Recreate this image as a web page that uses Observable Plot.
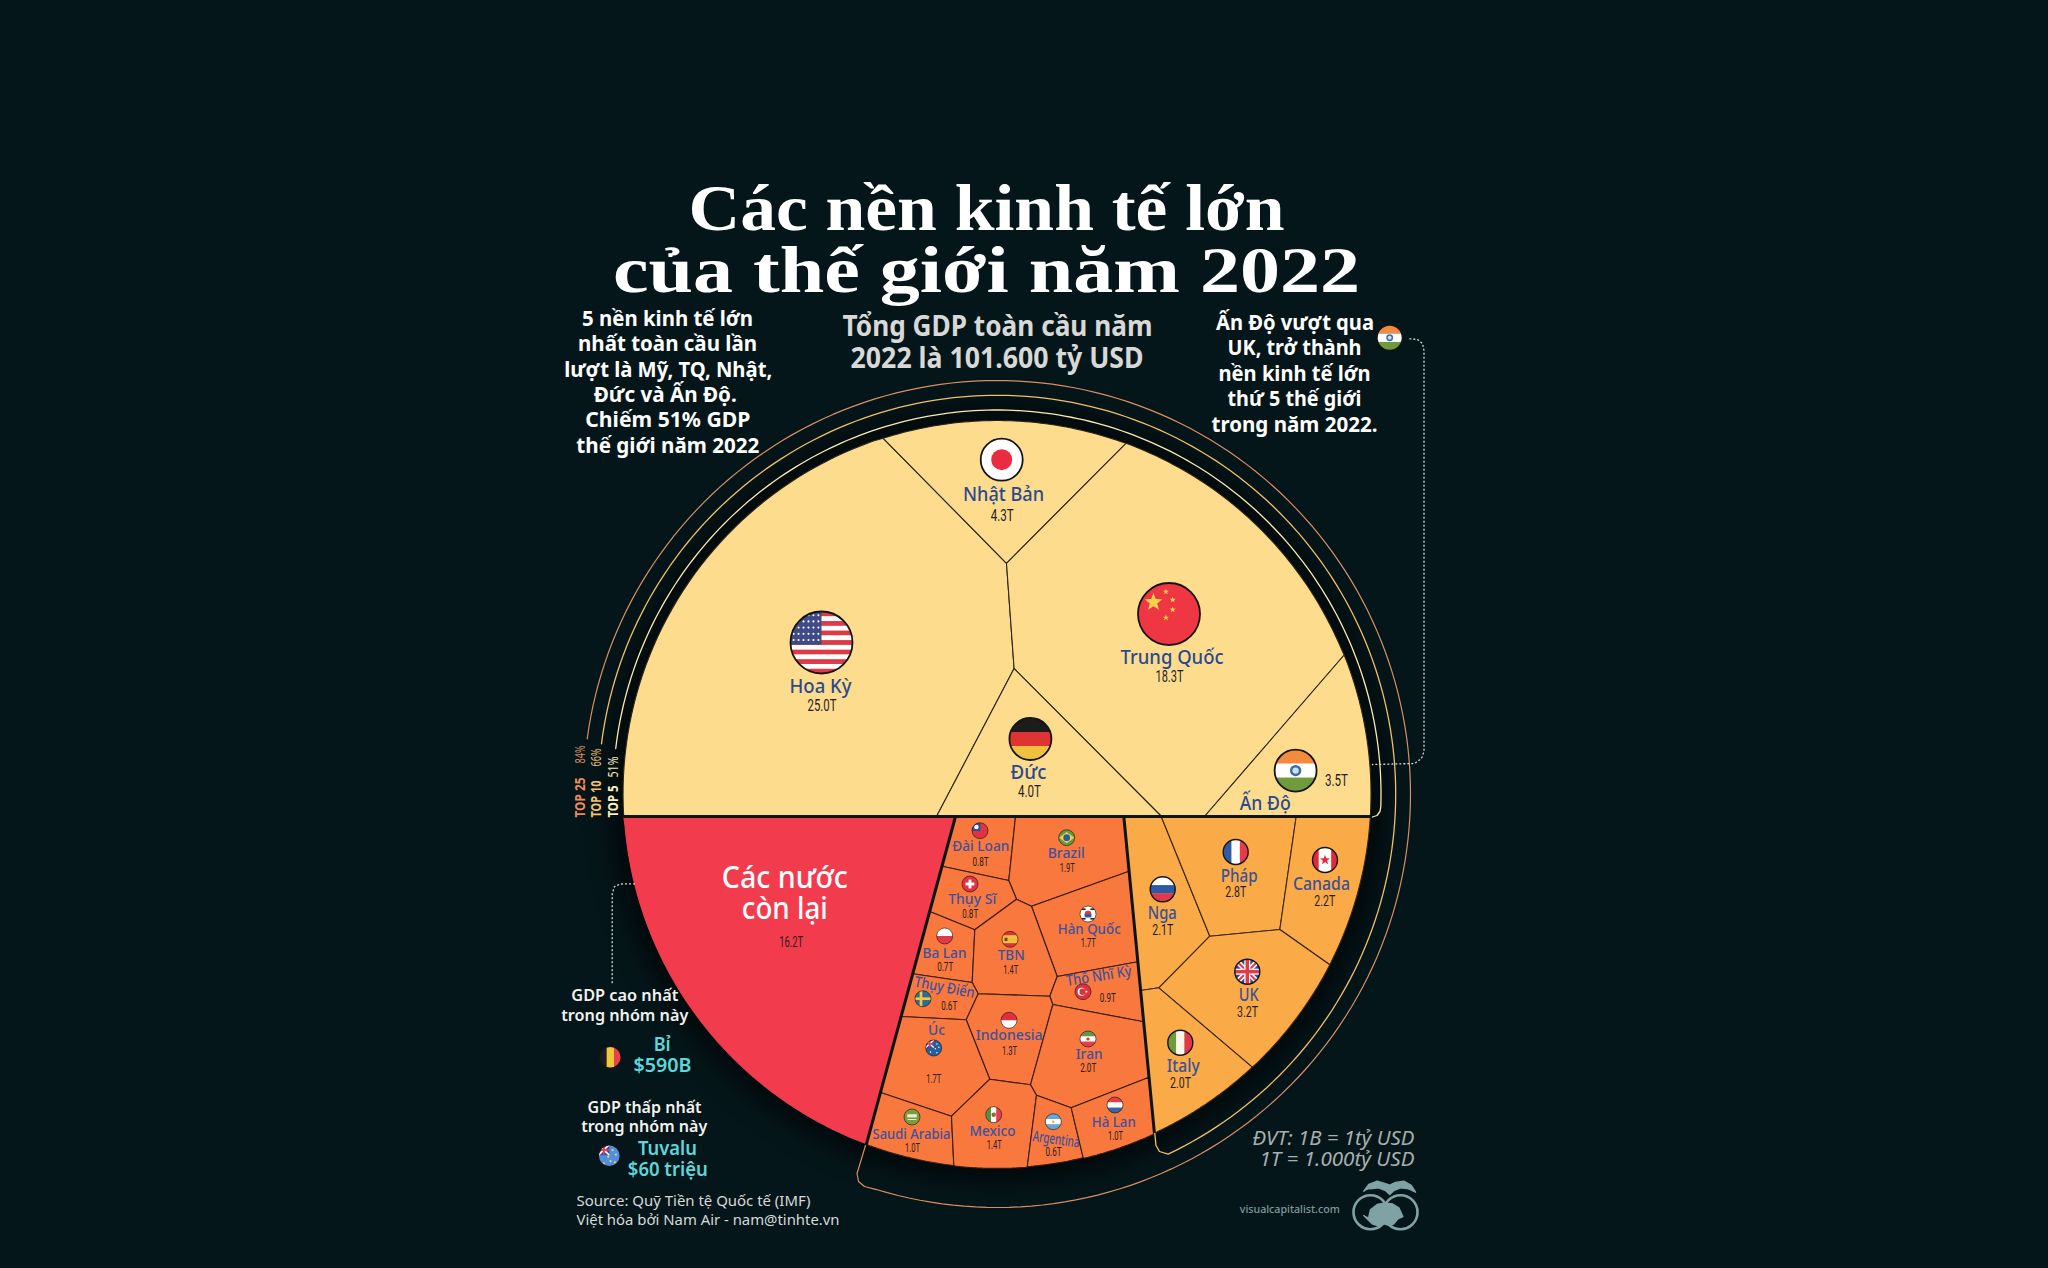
<!DOCTYPE html>
<html lang="vi">
<head>
<meta charset="utf-8">
<title>Các nền kinh tế lớn của thế giới năm 2022</title>
<script src="https://cdn.jsdelivr.net/npm/d3@7"></script>
<script src="https://cdn.jsdelivr.net/npm/@observablehq/plot@0.6"></script>
<style>
html,body{margin:0;padding:0;background:#05161a}
.halo{filter:blur(12px)}
</style>
</head>
<body>
<div id="chart"></div>
<script>
// ---- Reading of the pie: image coordinates
const centre = [996.5, 793.5], radius = 374;
const ARC = "arc";

// Top 5 cells
const top5Cells = [
  ["Hoa Kỳ", [[623.2,816],ARC,[882.7,437.8],[1006,562.8],[1013.6,668],[936,816]]],
  ["Nhật Bản", [[882.7,437.8],ARC,[1125.5,442.8],[1006,562.8]]],
  ["Trung Quốc", [[1125.5,442.8],ARC,[1343.7,654.5],[1204,816],[1161,816],[1013.6,668],[1006,562.8]]],
  ["Đức", [[1013.6,668],[1161,816],[936,816]]],
  ["Ấn Độ", [[1343.7,654.5],ARC,[1369.8,816],[1204,816]]]
];
// Next five
const top10Cells = [
  ["Nga", [[1123.3,816],[1160.7,816],[1209.3,935.7],[1158.3,987.3],[1140.1,990]]],
  ["Pháp", [[1160.7,816],[1295.7,816],[1279.3,929],[1209.3,935.7]]],
  ["Canada", [[1295.7,816],[1369.8,816],ARC,[1329.3,964.3],[1279.3,929]]],
  ["UK", [[1209.3,935.7],[1279.3,929],[1329.3,964.3],ARC,[1251.7,1066.7],[1158.3,987.3]]],
  ["Italy", [[1140.1,990],[1158.3,987.3],[1251.7,1066.7],ARC,[1154,1133.3]]]
];
// Next fifteen
const top25Cells = [
  ["Đài Loan", [[955,816],[1015,816],[1008.3,880],[941.5,865.7]]],
  ["Brazil", [[1015,816],[1123.3,816],[1128.6,870.7],[1031,905.7],[1016,898.7],[1008.3,880]]],
  ["Thụy Sĩ", [[941.5,865.7],[1008.3,880],[1016,898.7],[974.3,929.3],[929.2,911]]],
  ["Hàn Quốc", [[1031,905.7],[1128.6,870.7],[1137.4,961.3],[1056.7,976]]],
  ["Ba Lan", [[929.2,911],[974.3,929.3],[971.7,982],[912.2,973.3]]],
  ["TBN", [[1016,898.7],[1031,905.7],[1056.7,976],[1049.3,995.7],[977.7,993.3],[971.7,982],[974.3,929.3]]],
  ["Thụy Điển", [[912.2,973.3],[971.7,982],[977.7,993.3],[965.7,1019.3],[900.6,1016]]],
  ["Thổ Nhĩ Kỳ", [[1056.7,976],[1137.4,961.3],[1143.2,1021.3],[1052.3,1004],[1049.3,995.7]]],
  ["Indonesia", [[977.7,993.3],[1049.3,995.7],[1052.3,1004],[1030,1084.3],[989.3,1078.7],[965.7,1019.3]]],
  ["Iran", [[1052.3,1004],[1143.2,1021.3],[1148.5,1076.7],[1070.7,1107.3],[1036,1094.7],[1030,1084.3]]],
  ["Úc", [[900.6,1016],[965.7,1019.3],[989.3,1078.7],[951,1115.7],[880,1092]]],
  ["Saudi Arabia", [[880,1092],[951,1115.7],[953.3,1165],ARC,[866,1143.3]]],
  ["Mexico", [[951,1115.7],[989.3,1078.7],[1030,1084.3],[1036,1094.7],[1026.7,1166.7],ARC,[953.3,1165]]],
  ["Argentina", [[1036,1094.7],[1070.7,1107.3],[1082.7,1157.3],ARC,[1026.7,1166.7]]],
  ["Hà Lan", [[1070.7,1107.3],[1148.5,1076.7],[1154,1133.3],ARC,[1082.7,1157.3]]]
];
const restCell = [["Các nước còn lại", [[623.2,816],[955,816],[866,1143.3],ARC]]];

// Thick group boundaries
const groupLines = [
  ["d", [[623.2,816],[1369.8,816]]],
  ["r", [[955,816],[866,1143.3]]],
  ["a", [[1123.3,816],[1154,1133.3]]]
];

// Names, sizes: [text, x, y, width, rotation]
const bigNames = [
  ["Hoa Kỳ",820,685.6,62],["Trung Quốc",1171.5,657,103],["Nhật Bản",1003,494,81],["Đức",1028,772,36],["Ấn Độ",1264.7,803.3,51]
];
const midNames = [
  ["Pháp",1238.7,876,37],["Canada",1321,884,57],["Nga",1161.7,912.7,29],["UK",1248.3,995,20],["Italy",1182.7,1066,33]
];
const smallNames = [
  ["Đài Loan",980.3,846,57],["Brazil",1065.7,852.3,37],["Thụy Sĩ",971.7,898.7,48],["Hàn Quốc",1088.7,929,63],
  ["Ba Lan",944,953,44],["TBN",1010.7,955,27],["Thổ Nhĩ Kỳ",1098.3,975.7,66,-9],["Thụy Điển",944,987,61,11],
  ["Indonesia",1008.7,1035,67],["Iran",1088.7,1053.7,27],["Úc",936,1030,17],["Hà Lan",1113.3,1122,44],
  ["Saudi Arabia",911,1133.3,78],["Mexico",992,1131,46],["Argentina",1055.7,1139,47,8]
];
const bigValues = [["25.0T",821.5,705,29],["18.3T",1169,676.5,28],["4.3T",1001.7,514.6,23],["4.0T",1029,791.4,23],["3.5T",1336,780,23]];
const midValues = [["2.8T",1235.3,892,21],["2.2T",1324.3,900.3,21],["2.1T",1162.3,929.3,21],["3.2T",1247,1012,21],["2.0T",1180,1082.7,21],["16.2T",790.7,942,24]];
const smallValues = [
  ["0.8T",980,861,16],["1.9T",1066.7,867,15],["0.8T",969.7,913.3,16],["1.7T",1087.7,942.7,15],["0.7T",944.7,966,16],["1.4T",1010.3,969,15],
  ["0.9T",1107.3,997.3,16],["0.6T",948.7,1005.3,16],["1.3T",1009,1050,15],["2.0T",1087.7,1067.7,16],["1.7T",933.3,1078,15],["1.0T",1115,1135,15],
  ["1.0T",912,1147,15],["1.4T",993.7,1144.3,15],["0.6T",1053,1151.3,16]
];

// Flags: [type, x, y, r]
const flagRows = [
  ["us",821.5,642.5,31],["cn",1169,614,31],["jp",1001.7,459.7,21],["de",1030.4,739,21],["in",1295.6,770.6,21],
  ["fr",1235.7,852,12.5],["ca",1325,860,12.5],["ru",1162.7,889.3,12.5],["gb",1247.3,971.7,12.5],["it",1180.3,1042.7,12.5],
  ["tw",980,830.7,8],["br",1066.7,837.7,8],["ch",970,884,8],["kr",1088,914,8],["pl",944.7,936,8],["es",1010,939.3,8],
  ["tr",1083,991.7,8],["se",923,998.7,8],["id",1009,1020.3,8],["ir",1088,1039,8],["au",933.7,1048,8],["nl",1115,1105,8],
  ["sa",912,1117,8],["mx",993.7,1114.7,8],["ar",1053.3,1121.7,8],
  ["be",610.3,1057.3,11],["tv",609.3,1155.7,11],["in",1389.7,337.7,12.7]
];

// Free text
const titleLines = [["Các nền kinh tế lớn",986,229.3,596],["của thế giới năm 2022",986,291.7,747]];
const subtitleLines = [["Tổng GDP toàn cầu năm",997,327,310],["2022 là 101.600 tỷ USD",996.6,359,293]];
const leftNote = [
  ["5 nền kinh tế lớn",667,318,171],["nhất toàn cầu lần",667,343.5,179],["lượt là Mỹ, TQ, Nhật,",667.7,369,208],
  ["Đức và Ấn Độ.",664.7,394,143],["Chiếm 51% GDP",667.3,419.5,165],["thế giới năm 2022",667.3,445,183]
];
const rightNote = [
  ["Ấn Độ vượt qua",1294.5,322.5,158],["UK, trở thành",1294,347.5,134],["nền kinh tế lớn",1294,373,152],
  ["thứ 5 thế giới",1294,398.5,134],["trong năm 2022.",1294,424,166]
];
const restTitle = [["Các nước",784.3,877.5,126],["còn lại",784.3,908.5,86]];
const sideHeads = [
  ["GDP cao nhất",624.3,995.7,107],["trong nhóm này",624.3,1015,127],
  ["GDP thấp nhất",644,1107.3,114],["trong nhóm này",643.7,1126.7,126]
];
const sideValues = [["Bỉ",661.7,1044.3,17],["$590B",662,1065.7,58],["Tuvalu",667,1148.3,59],["$60 triệu",667.3,1169.3,80]];
const sourceLines = [["Source: Quỹ Tiền tệ Quốc tế (IMF)",576,1201,234],["Việt hóa bởi Nam Air - nam@tinhte.vn",576,1220,263]];
const unitLines = [["ĐVT: 1B = 1tỷ USD",1414,1138.3,162],["1T = 1.000tỷ USD",1414,1159,155]];
const siteLine = [["visualcapitalist.com",1289.3,1209.3,100]];
const ringLabelsBold = [
  ["TOP 25",579.3,817,40,-90,"#ef8a5a"],["TOP 10",596,817,37,-90,"#f5c36e"],["TOP 5",612.7,817,32,-90,"#fbeebb"]
];
const ringLabelsPct = [
  ["84%",579.3,763,18,-90,"#d98a62"],["66%",596,766,18,-90,"#e8bb70"],["51%",612.7,777,21,-90,"#f3e6b6"]
];

// Ring ends and hooks
const ringTop5 = { r: 384, from: [615,748], to: [1380.4,806], tail: [[1379.5,811],[1376.5,815],[1372,816.5]], color: "#fbeab0" };
const ringTop10 = { r: 398.7, from: [601,743.3], to: [1166,1150.2], tail: [[1159,1151],[1155.5,1145],[1154.3,1133]], color: "#f2bf6a" };
const ringTop25 = { r: 413.5, from: [586.7,738.3], to: [876,1189], tail: [[864,1186],[858,1181],[856.5,1173],[865,1145]], color: "#d98e62" };

const leaderLeft = [[634,883.3],[620,883.5],[614,886],[611.7,893],[611.7,982.7]];
const leaderRight = [[1409.3,338.3],[1417,339],[1422,343],[1423.5,350],[1423.5,751],[1421,758],[1414,763],[1372,764]];

const logoCap = [[1363.3,1190.7],[1368.3,1184],[1376.7,1180.7],[1385,1183.3],[1389.3,1184.7],[1395,1182],[1403.3,1180.7],[1410.7,1185],[1415,1191.7],[1408.3,1188.3],[1400,1187.3],[1393.3,1190],[1389.3,1194],[1385,1190],[1378.3,1187.3],[1370,1188.3]];
const logoBody = [[1368.3,1216.7],[1370,1209.3],[1376.7,1204],[1383.3,1202.7],[1391.7,1203.3],[1398.3,1207.3],[1402.3,1216],[1397.3,1218.3],[1393.3,1223.3],[1389.3,1225],[1383.3,1223.3],[1376.7,1225],[1371.7,1223.3],[1363.3,1215]];
const logoRings = [[1370,1211.7],[1400,1211.7]];

// ---- Helpers
function arcPoints(a, b, c = centre) {
  const a0 = Math.atan2(a[1]-c[1], a[0]-c[0]);
  const a1 = Math.atan2(b[1]-c[1], b[0]-c[0]);
  let d = a1 - a0;
  while (d > Math.PI) d -= 2*Math.PI;
  while (d < -Math.PI) d += 2*Math.PI;
  const r = Math.hypot(a[0]-c[0], a[1]-c[1]);
  return d3.range(1, 48).map(i => {
    const t = a0 + d*i/48;
    return [c[0]+r*Math.cos(t), c[1]+r*Math.sin(t)];
  });
}
function polyRows(cells) {
  return cells.flatMap(([name, vs]) => {
    const pts = [];
    vs.forEach((v, i) => {
      if (v === ARC) pts.push(...arcPoints(vs[i-1], vs[(i+1) % vs.length]));
      else pts.push(v);
    });
    pts.push(pts[0]);
    return pts.map(p => ({name, x: p[0], y: p[1]}));
  });
}
const cellMark = (cells, fill, stroke = "#2c2412") =>
  Plot.line(polyRows(cells), {x:"x", y:"y", z:"name", fill, stroke, strokeWidth:1.1, strokeLinejoin:"miter"});
function ringRows(ring) {
  // clockwise from left end to right end
  const a0 = Math.atan2(ring.from[1]-centre[1], ring.from[0]-centre[0]);
  let a1 = Math.atan2(ring.to[1]-centre[1], ring.to[0]-centre[0]);
  while (a1 < a0) a1 += 2*Math.PI;
  const pts = d3.range(0, 181).map(i => {
    const t = a0 + (a1-a0)*i/180;
    return [centre[0]+ring.r*Math.cos(t), centre[1]+ring.r*Math.sin(t)];
  });
  return [...pts, ...ring.tail];
}
const lineMark = (pts, o) => Plot.line(pts, {x:d=>d[0], y:d=>d[1], ...o});
const textMark = (rows, o) => Plot.text(rows, {
  x:d=>d[1], y:d=>d[2], text:d=>d[0], rotate:d=>d[4]||0,
  textAnchor:"middle", lineAnchor:"middle", ...o
});

// ---- Flag painter
const FLAG_SHAPES = {
  us(p){ for(let i=0;i<13;i++) p.rect(-1,-1+i*2/13,2,2/13+.01,i%2?"#fff":"#dd3a48");
         p.rect(-1,-1,1,1.07,"#3f4a86");
         for(let i=0;i<5;i++) for(let j=0;j<6;j++) p.disc(-.9+j*.16,-.88+i*.2,.035,"#fff"); },
  cn(p){ p.fill("#ee3743"); p.star(-.5,-.38,.3,"#f8d24a");
         [[-.1,-.72],[.12,-.46],[.12,-.14],[-.1,.12]].forEach(s=>p.star(s[0],s[1],.1,"#f8d24a")); },
  jp(p){ p.fill("#fff"); p.disc(0,0,.5,"#ea2b40"); },
  de(p){ p.hs(["#1c1c1c","#e03434","#f0c040"]); },
  in(p){ p.hs(["#f48a3c","#fff","#6f9b3c"]); p.disc(0,0,.27,"#3a6ea8"); p.disc(0,0,.15,"#cfe0ee"); },
  fr(p){ p.vs(["#2d5ca6","#fff","#e8394a"]); },
  ca(p){ p.vs(["#e22b3a","#fff","#fff","#e22b3a"]); p.star(0,0,.42,"#e22b3a"); },
  ru(p){ p.hs(["#fff","#2c5aa4","#e03a48"]); },
  gb(p){ p.fill("#2f4d9a"); p.line(-1,-1,1,1,"#fff",.42); p.line(-1,1,1,-1,"#fff",.42); p.line(-1,-1,1,1,"#e23a48",.16); p.line(-1,1,1,-1,"#e23a48",.16);
         p.rect(-1,-.24,2,.48,"#fff"); p.rect(-.24,-1,.48,2,"#fff"); p.rect(-1,-.14,2,.28,"#e23a48"); p.rect(-.14,-1,.28,2,"#e23a48"); },
  it(p){ p.vs(["#6f9b3c","#fbf6ea","#e03a48"]); },
  tw(p){ p.fill("#e0323f"); p.rect(-1,-1,1.05,1.05,"#2a4fa0"); p.disc(-.45,-.45,.28,"#fff"); },
  br(p){ p.fill("#5f9a3c"); p.poly([[-.95,0],[0,-.7],[.95,0],[0,.7]],"#efd04a"); p.disc(0,0,.42,"#2f5a9c"); },
  ch(p){ p.fill("#e2323f"); p.rect(-.55,-.18,1.1,.36,"#fff"); p.rect(-.18,-.55,.36,1.1,"#fff"); },
  kr(p){ p.fill("#fff"); p.disc(0,0,.42,"#d83a48"); p.rect(-.42,0,.84,.42,"#2f5aa0");
         [[-.8,-.7,.5],[.3,-.7,.5],[-.8,.5,.5],[.3,.5,.5]].forEach(b=>p.rect(b[0],b[1],b[2],.2,"#222")); },
  pl(p){ p.hs(["#fff","#e03a48"]); },
  es(p){ p.hs(["#d8323a","#f4c03c","#f4c03c","#d8323a"]); p.rect(-.68,-.2,.36,.42,"#7d3a2a"); },
  tr(p){ p.fill("#e0303c"); p.disc(-.18,0,.5,"#fff"); p.disc(-.04,0,.4,"#e0303c"); p.star(.42,0,.2,"#fff"); },
  se(p){ p.fill("#2a6c9c"); p.rect(-1,-.17,2,.34,"#f0c83c"); p.rect(-.42,-1,.34,2,"#f0c83c"); },
  id(p){ p.hs(["#e03040","#fff"]); },
  ir(p){ p.hs(["#5f9a4c","#fff","#e0404c"]); p.disc(0,0,.2,"#d8323f"); },
  au(p){ p.fill("#275ea0"); p.rect(-1,-1,1,.95,"#2c4b90"); p.line(-1,-1,0,-.05,"#fff",.18); p.line(-1,-.05,0,-1,"#fff",.18); p.rect(-1,-.6,1,.18,"#e23a48"); p.rect(-.58,-1,.16,.95,"#e23a48");
         [[.4,-.5],[.65,-.1],[.2,.1],[.4,.6],[-.4,.5]].forEach(s=>p.disc(s[0],s[1],.09,"#fff")); },
  nl(p){ p.hs(["#e0404a","#fff","#3a64aa"]); },
  sa(p){ p.fill("#7d9c3c"); p.rect(-.6,-.35,1.2,.4,"#e8ecd0"); p.rect(-.55,.25,1.1,.12,"#e8ecd0"); },
  mx(p){ p.vs(["#5a8f45","#fff","#e0404c"]); p.disc(0,0,.28,"#8a6a3a"); },
  ar(p){ p.hs(["#62a8dc","#fff","#62a8dc"]); p.disc(0,0,.16,"#e8b83c"); },
  be(p){ p.vs(["#1c1c1c","#f0c83c","#e8404c"]); },
  tv(p){ p.fill("#4f8ee0"); p.rect(-1,-1,1,.95,"#2f4d9a"); p.line(-1,-1,0,-.05,"#fff",.16); p.line(-1,-.05,0,-1,"#fff",.16); p.rect(-1,-.6,1,.16,"#e23a48"); p.rect(-.58,-1,.16,.95,"#e23a48");
         [[.3,-.5],[.6,-.1],[.1,.5],[-.5,.7],[.5,.6],[-.1,.1]].forEach(s=>p.disc(s[0],s[1],.1,"#f5d34a")); }
};
function flagMark(index, scales) {
  const root = d3.create("svg:g").attr("class","flags");
  flagRows.forEach(([type, fx, fy, r], n) => {
    const id = `flag-clip-${n}`;
    const g = root.append("g").attr("transform", `translate(${scales.x(fx)},${scales.y(fy)}) scale(${r})`);
    g.append("clipPath").attr("id", id).append("circle").attr("r", 1);
    const c = g.append("g").attr("clip-path", `url(#${id})`);
    const p = {
      rect:(x,y,w,h,f)=>c.append("rect").attr("x",x).attr("y",y).attr("width",w).attr("height",h).attr("fill",f),
      fill:f=>p.rect(-1,-1,2,2,f),
      hs:cols=>cols.forEach((f,i)=>p.rect(-1,-1+i*2/cols.length,2,2/cols.length+.005,f)),
      vs:cols=>cols.forEach((f,i)=>p.rect(-1+i*2/cols.length,-1,2/cols.length+.005,2,f)),
      disc:(x,y,s,f)=>c.append("circle").attr("cx",x).attr("cy",y).attr("r",s).attr("fill",f),
      poly:(pts,f)=>c.append("polygon").attr("points",pts.map(q=>q.join(",")).join(" ")).attr("fill",f),
      line:(x1,y1,x2,y2,s,w)=>c.append("line").attr("x1",x1).attr("y1",y1).attr("x2",x2).attr("y2",y2).attr("stroke",s).attr("stroke-width",w),
      star:(x,y,s,f)=>p.poly(d3.range(10).map(i=>{const a=-Math.PI/2+i*Math.PI/5,q=i%2?s*.42:s;return [x+q*Math.cos(a),y+q*Math.sin(a)];}),f)
    };
    FLAG_SHAPES[type](p);
    g.append("circle").attr("r",1).attr("fill","none").attr("stroke","#141414")
      .attr("stroke-width", r > 20 ? 1.8 : r > 10 ? 1.4 : 0.6).attr("vector-effect","non-scaling-stroke");
  });
  return root.node();
}

// ---- Chart
const valueFont = "Roboto";
const chart = Plot.plot({
  width: 2048, height: 1268, margin: 0,
  x: {domain:[0,2048], range:[0,2048], axis:null},
  y: {domain:[0,1268], range:[0,1268], axis:null},
  style: {background:"#05161a", display:"block"},
  marks: [
    Plot.dot([centre], {x:d=>d[0], y:d=>d[1], r:radius+14, fill:"#000", fillOpacity:.6, className:"halo"}),
    cellMark(restCell, "#f23c4e", "#f23c4e"),
    cellMark(top25Cells, "#f8783e", "#3a1e10"),
    cellMark(top10Cells, "#fbaa48", "#3a2810"),
    cellMark(top5Cells, "#fedc8e", "#2c2618"),
    ...groupLines.map(([n, pts]) => lineMark(pts, {stroke:"#0c1416", strokeWidth:3})),
    lineMark(ringRows(ringTop5), {stroke:ringTop5.color, strokeWidth:1.3}),
    lineMark(ringRows(ringTop10), {stroke:ringTop10.color, strokeWidth:1.3}),
    lineMark(ringRows(ringTop25), {stroke:ringTop25.color, strokeWidth:1.2}),
    lineMark(leaderLeft, {stroke:"#d9dcd8", strokeWidth:1.3, strokeDasharray:"1 3", strokeLinecap:"round"}),
    lineMark(leaderRight, {stroke:"#d9dcd8", strokeWidth:1.3, strokeDasharray:"1 3", strokeLinecap:"round"}),
    flagMark,
    // logo
    Plot.dot(logoRings, {x:d=>d[0], y:d=>d[1], r:17, stroke:"#7fa3a5", strokeWidth:2.6, fill:"none"}),
    lineMark(logoCap, {fill:"#7fa3a5", stroke:"#7fa3a5"}),
    lineMark(logoBody, {fill:"#7fa3a5", stroke:"#7fa3a5", strokeWidth:1.5}),
    // text
    textMark(titleLines, {lineAnchor:"bottom", fill:"#fff", fontFamily:"Liberation Serif", fontWeight:700, fontSize:66}),
    textMark(subtitleLines, {fill:"#d8d9d6", fontFamily:"Noto Sans", fontWeight:700, fontSize:28}),
    textMark(leftNote, {fill:"#fff", fontFamily:"Noto Sans", fontWeight:700, fontSize:22}),
    textMark(rightNote, {fill:"#fff", fontFamily:"Noto Sans", fontWeight:700, fontSize:22}),
    textMark(bigNames, {fill:"#2a4a8e", fontFamily:"Noto Sans", fontWeight:500, fontSize:20}),
    textMark(midNames, {fill:"#3c5294", fontFamily:"Noto Sans", fontWeight:500, fontSize:18}),
    textMark(smallNames, {fill:"#41509c", fontFamily:"Noto Sans", fontWeight:500, fontSize:15}),
    textMark(bigValues, {fill:"#1e1e1e", fontFamily:valueFont, fontSize:17}),
    textMark(midValues, {fill:"#1e1e1e", fontFamily:valueFont, fontSize:15}),
    textMark(smallValues, {fill:"#2a1c18", fontFamily:valueFont, fontSize:13}),
    textMark(restTitle, {fill:"#fff", fontFamily:"Noto Sans", fontWeight:500, fontSize:30}),
    textMark(sideHeads, {fill:"#f2f2ee", fontFamily:"Noto Sans", fontWeight:600, fontSize:16}),
    textMark(sideValues, {fill:"#5ed6da", fontFamily:"Noto Sans", fontWeight:600, fontSize:19}),
    textMark(sourceLines, {textAnchor:"start", fill:"#d6dad8", fontFamily:"Noto Sans", fontSize:15}),
    textMark(unitLines, {textAnchor:"end", fill:"#a9afae", fontFamily:"Noto Sans", fontStyle:"italic", fontSize:19}),
    textMark(siteLine, {fill:"#7f9a9c", fontFamily:"Noto Sans", fontWeight:500, fontSize:11}),
    textMark(ringLabelsBold, {textAnchor:"start", fill:d=>d[5], fontFamily:"Noto Sans", fontWeight:700, fontSize:15}),
    textMark(ringLabelsPct, {textAnchor:"start", fill:d=>d[5], fontFamily:"Noto Sans", fontSize:15})
  ]
});
// Fit each line to the width
const byText = new Map();
[titleLines, subtitleLines, leftNote, rightNote, bigNames, midNames, smallNames, bigValues, midValues, smallValues, restTitle, sideHeads, sideValues, sourceLines, unitLines, siteLine, ringLabelsBold, ringLabelsPct]
  .flat().forEach(r => byText.set(r[0], (byText.get(r[0]) || []).concat([r[3]])));
[...ringLabelsPct].forEach(r => byText.set(r[0], [r[3]]));
d3.select(chart).selectAll("text").each(function() {
  const list = byText.get(this.textContent);
  if (list && list.length) {
    this.setAttribute("textLength", list.shift());
    this.setAttribute("lengthAdjust", "spacingAndGlyphs");
  }
});
document.getElementById("chart").appendChild(chart);
</script>
</body>
</html>
